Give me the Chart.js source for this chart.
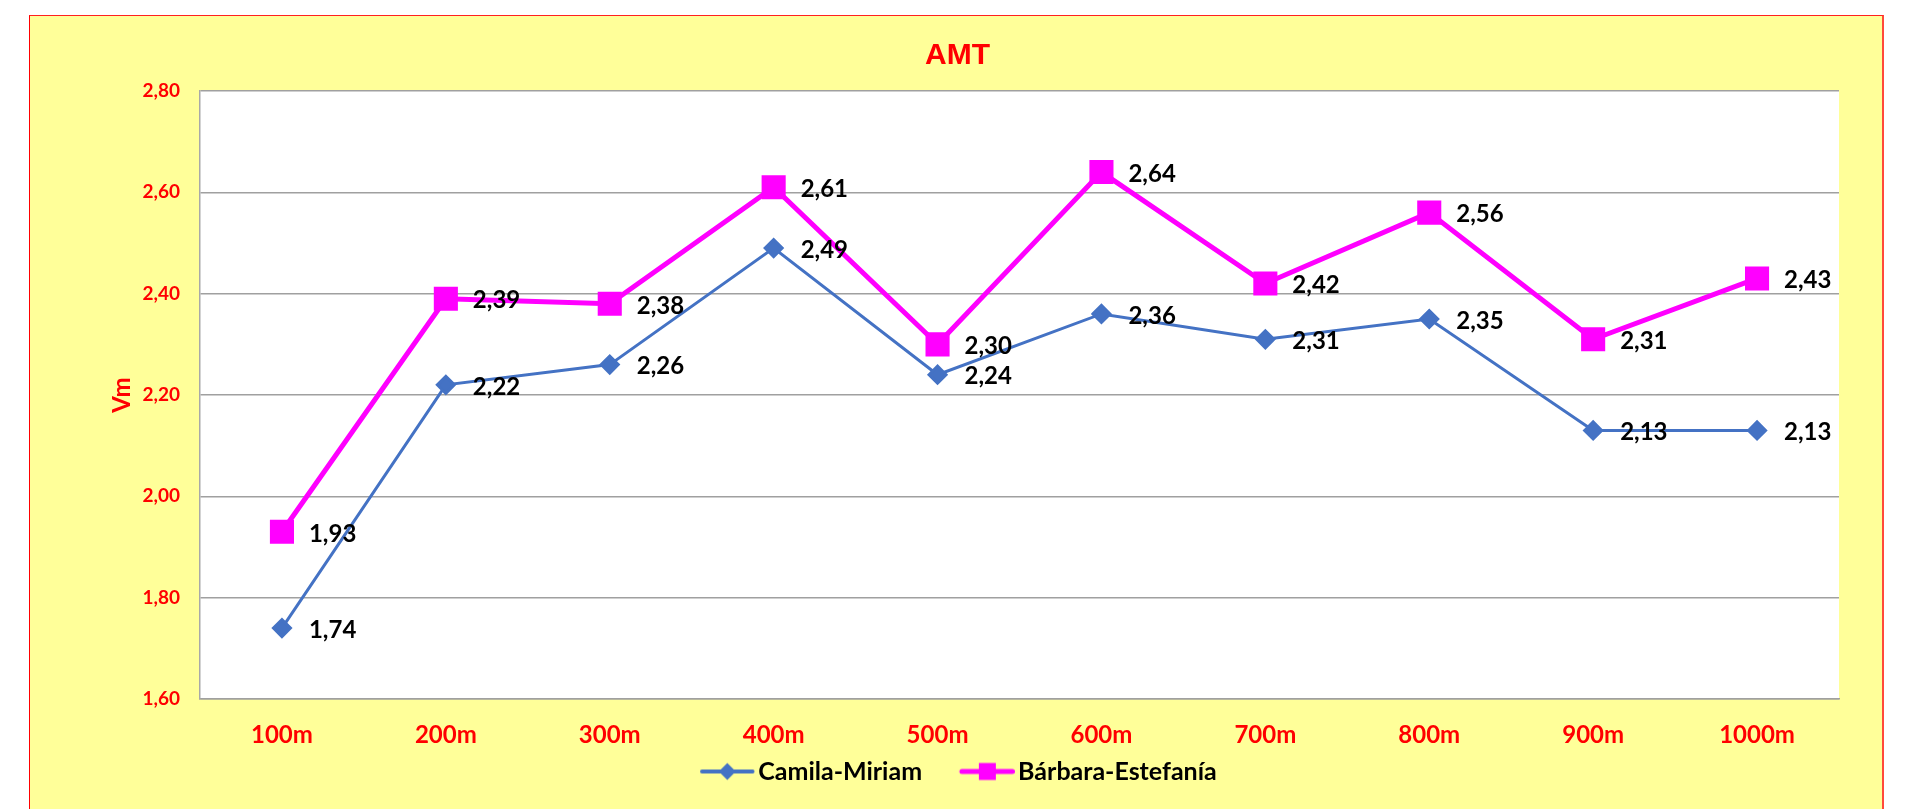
<!DOCTYPE html>
<html>
<head>
<meta charset="utf-8">
<script src="https://cdn.jsdelivr.net/npm/chart.js@4.4.0/dist/chart.umd.min.js"></script>
<style>
  html, body { margin: 0; padding: 0; background: #fff; overflow: hidden; }
  #box {
    position: absolute; left: 29px; top: 15px;
    width: 1852px; height: 820px;
    background: #ffff99;
    border-left: 1px solid #ff0000;
    border-top: 1px solid #ff2020;
    border-right: 2px solid #ff4a3a;
  }
  #chart { display: block; }
</style>
</head>
<body>
<div id="box"><canvas id="chart" width="1852" height="793"></canvas></div>
<script>
var distances = ["100m", "200m", "300m", "400m", "500m", "600m", "700m", "800m", "900m", "1000m"];
var camilaMiriam = [1.74, 2.22, 2.26, 2.49, 2.24, 2.36, 2.31, 2.35, 2.13, 2.13];
var barbaraEstefania = [1.93, 2.39, 2.38, 2.61, 2.30, 2.64, 2.42, 2.56, 2.31, 2.43];
var yTicks = [1.60, 1.80, 2.00, 2.20, 2.40, 2.60, 2.80];

var BLUE = "#4472c4";
var PINK = "#ff00ff";
var RED = "#ff0000";
var FONT = "Lato, 'Noto Sans', sans-serif";

function comma(v) {
    return Number(v).toFixed(2).replace(".", ",");
}

// legend swatch: line with marker, drawn in the right part of a wider image
// so that chart.js leaves a gap in front of it
function swatch(color, lineW, shape) {
    var c = document.createElement("canvas");
    c.width = 92; c.height = 24;
    var g = c.getContext("2d");
    g.strokeStyle = color;
    g.lineWidth = lineW;
    g.lineCap = "round";
    g.beginPath(); g.moveTo(39, 12); g.lineTo(89.5, 12); g.stroke();
    g.fillStyle = color;
    g.beginPath();
    if (shape === "diamond") {
        g.moveTo(64.25, 3.5); g.lineTo(72.75, 12); g.lineTo(64.25, 20.5); g.lineTo(55.75, 12);
    } else {
        g.rect(56, 3.5, 17, 17);
    }
    g.fill();
    return c;
}
var swatches = [swatch(BLUE, 4, "diamond"), swatch(PINK, 5, "square")];

var plotBackground = {
    id: "plotBackground",
    beforeDraw: function(chart) {
        var a = chart.chartArea, ctx = chart.ctx;
        ctx.save();
        ctx.fillStyle = "#ffffff";
        ctx.fillRect(a.left, a.top, a.right - a.left, a.bottom - a.top);
        ctx.restore();
    }
};

// title and legend sit on the middle of the whole box, not of the padded area
var nudgeBoxes = {
    id: "nudgeBoxes",
    afterLayout: function(chart) {
        chart.legend.left += 10;
        chart.legend.right += 10;
        chart.titleBlock.left += 23;
        chart.titleBlock.right += 23;
    }
};

var valueLabels = {
    id: "valueLabels",
    afterDatasetsDraw: function(chart) {
        var ctx = chart.ctx;
        ctx.save();
        ctx.font = "bold 24px " + FONT;
        ctx.fillStyle = "#000000";
        ctx.textAlign = "left";
        ctx.textBaseline = "middle";
        chart.data.datasets.forEach(function(ds, i) {
            chart.getDatasetMeta(i).data.forEach(function(pt, j) {
                ctx.fillText(comma(ds.data[j]), pt.x + 27, pt.y + 2);
            });
        });
        ctx.restore();
    }
};

new Chart(document.getElementById("chart").getContext("2d"), {
    type: "line",
    data: {
        labels: distances,
        datasets: [{
            label: "Camila-Miriam",
            data: camilaMiriam,
            borderColor: BLUE,
            backgroundColor: BLUE,
            borderWidth: 3,
            pointStyle: "rectRot",
            pointRadius: 8.5,
            pointHoverRadius: 8.5,
            tension: 0
        }, {
            label: "Bárbara-Estefanía",
            data: barbaraEstefania,
            borderColor: PINK,
            backgroundColor: PINK,
            borderWidth: 5,
            pointStyle: "rect",
            pointRadius: 13.5,
            pointHoverRadius: 13.5,
            tension: 0
        }]
    },
    options: {
        responsive: false,
        animation: false,
        layout: { padding: { left: 0, right: 43, top: 0, bottom: 15 } },
        plugins: {
            title: {
                display: true,
                text: "AMT",
                color: RED,
                font: { family: "'Liberation Sans', Arial, sans-serif", size: 30, weight: "bold" },
                padding: { top: 22, bottom: 17 }
            },
            legend: {
                position: "bottom",
                labels: {
                    usePointStyle: true,
                    pointStyleWidth: 73.5,
                    padding: 10,
                    color: "#000000",
                    font: { family: FONT, size: 25, weight: "bold" },
                    generateLabels: function(chart) {
                        var items = Chart.defaults.plugins.legend.labels.generateLabels(chart);
                        items.forEach(function(it, i) { it.pointStyle = swatches[i]; });
                        return items;
                    }
                }
            },
            tooltip: { enabled: false }
        },
        scales: {
            x: {
                offset: true,
                grid: { display: false, drawTicks: false },
                border: { display: true, color: "#a0a0a0", width: 1.5 },
                ticks: {
                    color: RED,
                    padding: 22,
                    font: { family: FONT, size: 24, weight: "bold" }
                },
                afterFit: function(s) { s.height = 50; }
            },
            y: {
                min: 1.6,
                max: 2.8,
                afterBuildTicks: function(s) {
                    s.ticks = yTicks.map(function(v) { return { value: v }; });
                },
                grid: { color: "#a0a0a0", lineWidth: 1.5, drawTicks: false },
                border: { display: true, color: "#a8a8a8", width: 1.5 },
                ticks: {
                    color: RED,
                    padding: 20,
                    font: { family: FONT, size: 19, weight: "bold" },
                    callback: function(v) { return comma(v); }
                },
                title: {
                    display: true,
                    text: "Vm",
                    color: RED,
                    font: { family: FONT, size: 24, weight: "bold" },
                    padding: { top: 78, bottom: 0 }
                },
                afterFit: function(s) { s.width = 170; }
            }
        }
    },
    plugins: [plotBackground, valueLabels, nudgeBoxes]
});
</script>
</body>
</html>
